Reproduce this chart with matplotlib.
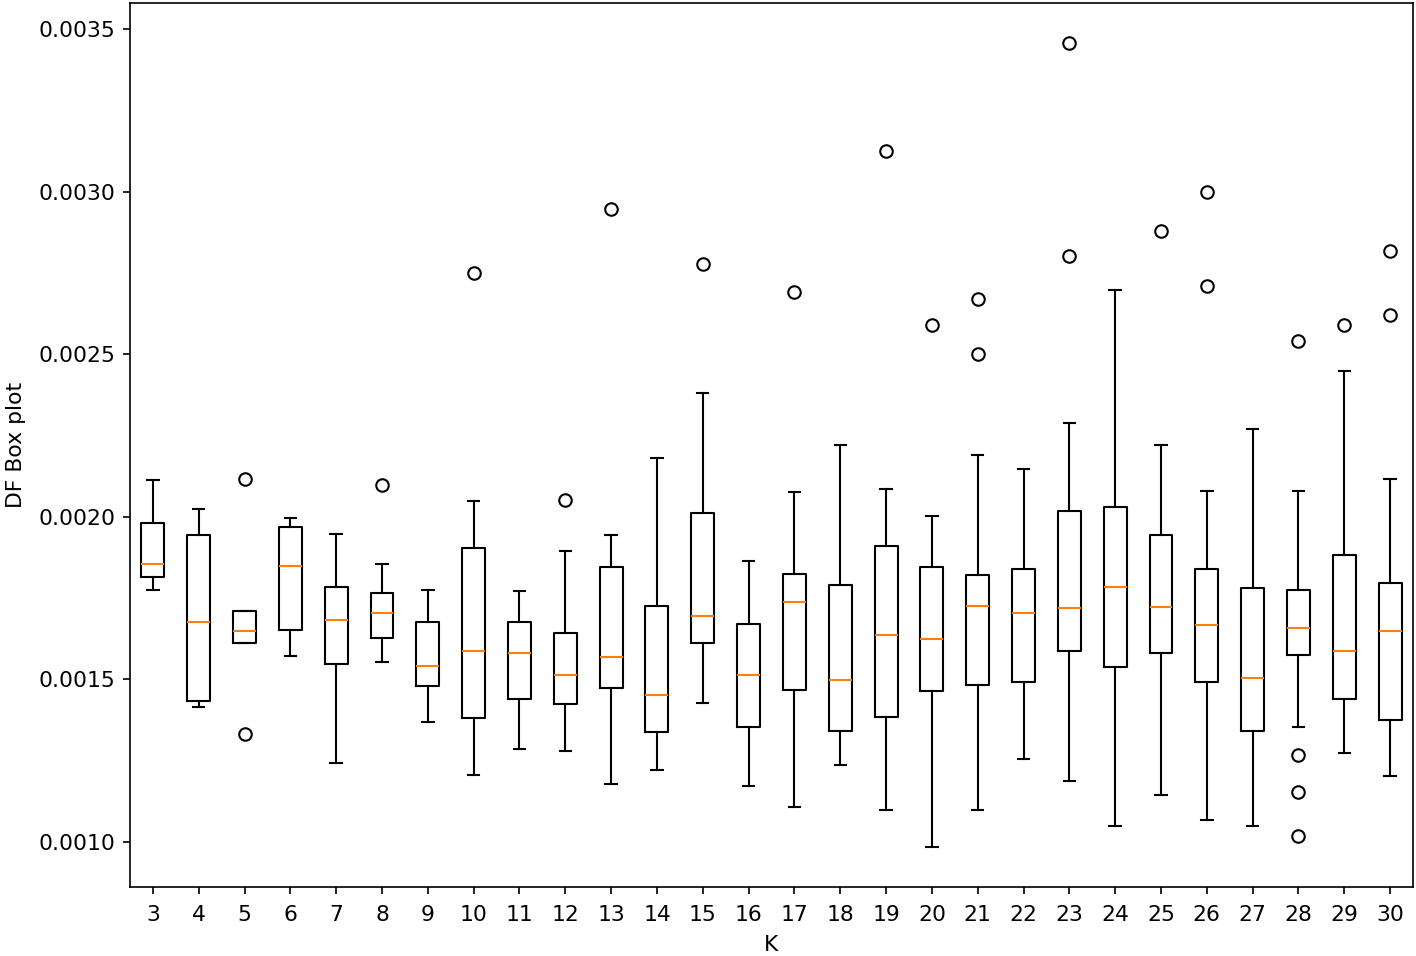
import matplotlib
matplotlib.use('Agg')
import matplotlib.pyplot as plt

plt.rcParams['font.size'] = 10.5

# values (units of 1e-3)
ks = list(range(3, 31))
q1 = [1.815, 1.433, 1.610, 1.651, 1.547, 1.627, 1.479, 1.379, 1.438, 1.424,
      1.474, 1.336, 1.611, 1.354, 1.468, 1.340, 1.383, 1.463, 1.483, 1.492,
      1.586, 1.537, 1.579, 1.490, 1.340, 1.573, 1.439, 1.375]
med = [1.854, 1.677, 1.647, 1.849, 1.681, 1.705, 1.541, 1.588, 1.581, 1.513,
       1.567, 1.452, 1.695, 1.513, 1.736, 1.498, 1.636, 1.623, 1.725, 1.705,
       1.720, 1.785, 1.721, 1.667, 1.503, 1.657, 1.588, 1.648]
q3 = [1.982, 1.943, 1.710, 1.967, 1.784, 1.765, 1.677, 1.904, 1.676, 1.641,
      1.844, 1.725, 2.011, 1.670, 1.825, 1.789, 1.909, 1.844, 1.819, 1.838,
      2.017, 2.031, 1.944, 1.839, 1.781, 1.775, 1.881, 1.795]
whislo = [1.774, 1.415, 1.610, 1.571, 1.241, 1.552, 1.369, 1.206, 1.285, 1.280,
          1.176, 1.221, 1.428, 1.171, 1.107, 1.236, 1.097, 0.984, 1.097, 1.255,
          1.186, 1.049, 1.143, 1.068, 1.049, 1.352, 1.272, 1.203]
whishi = [2.112, 2.023, 1.710, 1.997, 1.948, 1.854, 1.775, 2.048, 1.772, 1.894,
          1.943, 2.180, 2.379, 1.864, 2.076, 2.220, 2.086, 2.002, 2.191, 2.146,
          2.289, 2.698, 2.220, 2.078, 2.270, 2.078, 2.448, 2.116]
fliers = [[], [], [2.116, 1.330], [], [], [2.096], [], [2.751], [], [2.052],
          [2.947], [], [2.778], [], [2.692], [], [3.125], [2.591], [2.671, 2.499], [],
          [3.457, 2.803], [], [2.880], [3.000, 2.711], [], [2.542, 1.267, 1.154, 1.018],
          [2.591], [2.818, 2.622]]

stats = []
for i, k in enumerate(ks):
    stats.append({
        'label': str(k),
        'q1': q1[i] / 1000, 'med': med[i] / 1000, 'q3': q3[i] / 1000,
        'whislo': whislo[i] / 1000, 'whishi': whishi[i] / 1000,
        'fliers': [f / 1000 for f in fliers[i]],
    })

fig = plt.figure(figsize=(1416 / 150, 956 / 150), dpi=150)
ax = fig.add_axes([130 / 1416, 1 - 887 / 956, (1413 - 130) / 1416, (887 - 3) / 956])
ax.bxp(stats)
ax.tick_params(axis='x', pad=5)
ax.set_xlabel('K', labelpad=5)
ax.set_ylabel('DF Box plot', labelpad=6)

fig.savefig('out.png', dpi=150)
